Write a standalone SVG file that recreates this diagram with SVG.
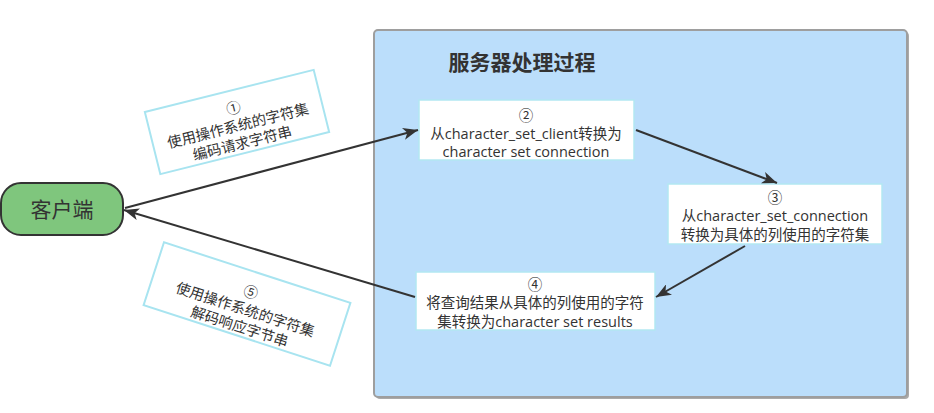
<svg xmlns="http://www.w3.org/2000/svg" width="934" height="413" viewBox="0 0 934 413">
<style>
.t{font-family:"Open Sans","Noto Sans CJK SC",sans-serif;font-size:14.5px;fill:#333;text-anchor:middle}
.box{fill:#fff;stroke:#b3e8f2;stroke-width:1.5}
.lbl{fill:#fff;stroke:#a8e4f0;stroke-width:2}
.con{stroke:#333;stroke-width:2;fill:none;marker-end:url(#arr)}
</style>
<defs>
<marker id="arr" markerUnits="userSpaceOnUse" markerWidth="16" markerHeight="12" refX="15" refY="6" orient="auto">
<path d="M0,0 L15,6 L0,12 L4,6 Z" fill="#333"/>
</marker>
</defs>
<rect width="934" height="413" fill="#fff"/>
<g id="server">
<rect x="376" y="32" width="533" height="367" rx="4" fill="#aaa"/>
<rect x="374" y="30" width="533" height="367" rx="4" fill="#bbdefb" stroke="#9e9e9e" stroke-width="2"/>
<text x="522" y="70" class="t" style="font-size:21px;font-weight:bold">服务器处理过程</text>
</g>
<g id="client">
<rect x="1" y="183" width="122" height="52" rx="20" fill="#7fc67d" stroke="#333" stroke-width="2"/>
<text x="62" y="217" class="t" style="font-size:21px">客户端</text>
</g>
<g id="step2">
<rect x="419" y="100" width="215" height="60" class="box"/>
<text x="526" y="121" class="t">②</text>
<text x="526" y="139" class="t">从character_set_client转换为</text>
<text x="526" y="157" class="t">character set connection</text>
</g>
<g id="step3">
<rect x="668" y="184" width="214" height="60" class="box"/>
<text x="775" y="203" class="t">③</text>
<text x="775" y="221" class="t">从character_set_connection</text>
<text x="775" y="240" class="t">转换为具体的列使用的字符集</text>
</g>
<g id="step4">
<rect x="416" y="272" width="239" height="58" class="box"/>
<text x="535" y="290" class="t">④</text>
<text x="535" y="308" class="t">将查询结果从具体的列使用的字符</text>
<text x="535" y="327" class="t">集转换为character set results</text>
</g>
<g id="label1" transform="translate(237,122) rotate(-14)">
<rect x="-87" y="-32" width="174" height="64" class="lbl"/>
<text x="0" y="-9" class="t">①</text>
<text x="0" y="9" class="t">使用操作系统的字符集</text>
<text x="0" y="27" class="t">编码请求字符串</text>
</g>
<g id="label5" transform="translate(247,304) rotate(18)">
<rect x="-98" y="-33" width="196" height="66" class="lbl"/>
<text x="0" y="-7" class="t">⑤</text>
<text x="0" y="11" class="t">使用操作系统的字符集</text>
<text x="0" y="29" class="t">解码响应字节串</text>
</g>
<g id="connectors">
<path d="M125,208 L418,130" class="con"/>
<path d="M636,130 L777,183" class="con"/>
<path d="M745,246 L656,297" class="con"/>
<path d="M415,297 L124,210" class="con"/>
</g>
</svg>
